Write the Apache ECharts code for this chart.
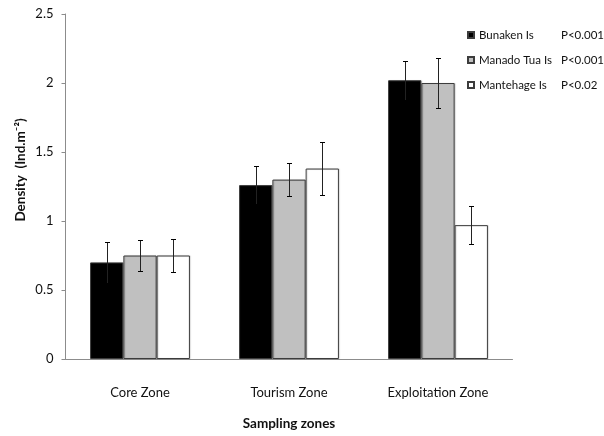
<!DOCTYPE html>
<html>
<head>
<meta charset="utf-8">
<script src="https://cdn.jsdelivr.net/npm/echarts@6/dist/echarts.min.js"></script>
<style>
  html, body { margin: 0; padding: 0; background: #fff; }
  #chart { width: 604px; height: 436px; }
</style>
</head>
<body>
<div id="chart"></div>
<script>
// Sampling zones on the x axis
var zones = ['Core Zone', 'Tourism Zone', 'Exploitation Zone'];

// Islands, with the significance note shown beside each legend entry
var islands = ['Bunaken Is', 'Manado Tua Is', 'Mantehage Is'];
var pNotes = ['P<0.001', 'P<0.001', 'P<0.02'];

// Mean density (ind. m^-2) per zone
var bunakenMean = [0.70, 1.26, 2.02];
var manadoMean = [0.75, 1.30, 2.00];
var mantehageMean = [0.75, 1.38, 0.97];

// Standard error per zone
var bunakenErr = [0.15, 0.14, 0.14];
var manadoErr = [0.11, 0.12, 0.18];
var mantehageErr = [0.12, 0.19, 0.14];

var means = [bunakenMean, manadoMean, mantehageMean];
var errs = [bunakenErr, manadoErr, mantehageErr];
var fills = ['#000000', '#c0c0c0', '#ffffff'];

var FONT = "Lato, 'Open Sans', sans-serif";
var CATEGORY_GAP = 0.33;

var chart = echarts.init(document.getElementById('chart'), null, { renderer: 'canvas' });

function errorSeries(k) {
  return {
    type: 'custom',
    name: islands[k] + ' error',
    z: 5,
    silent: true,
    data: means[k].map(function (m, i) { return [i, m, errs[k][i]]; }),
    renderItem: function (params, api) {
      var i = api.value(0), m = api.value(1), e = api.value(2);
      var band = api.size([1, 0])[0];
      var bw = band * (1 - CATEGORY_GAP) / 3;
      var cx = Math.round(api.coord([i, m])[0] + (k - 1) * bw) + 0.5;
      var yHi = Math.round(api.coord([i, m + e])[1]) + 0.5;
      var yLo = Math.round(api.coord([i, m - e])[1]) + 0.5;
      var cap = 2.5;
      return {
        type: 'group',
        children: [
          { type: 'line', shape: { x1: cx, y1: yHi, x2: cx, y2: yLo }, style: { stroke: '#222', lineWidth: 1 } },
          { type: 'line', shape: { x1: cx - cap, y1: yHi, x2: cx + cap, y2: yHi }, style: { stroke: '#000', lineWidth: 1 } },
          { type: 'line', shape: { x1: cx - cap, y1: yLo, x2: cx + cap, y2: yLo }, style: { stroke: '#000', lineWidth: 1 } }
        ]
      };
    }
  };
}

var barSeries = islands.map(function (name, k) {
  return {
    type: 'bar',
    name: name,
    data: means[k],
    barGap: '0%',
    barCategoryGap: (CATEGORY_GAP * 100) + '%',
    itemStyle: {
      color: fills[k],
      borderColor: '#3c3c3c',
      borderWidth: 1,
      shadowColor: 'rgba(0,0,0,0.15)',
      shadowBlur: 1,
      shadowOffsetX: 1,
      shadowOffsetY: 0
    },
    emphasis: { disabled: true }
  };
});

var option = {
  animation: false,
  backgroundColor: '#ffffff',
  grid: { left: 65.5, right: 91.5, top: 14, bottom: 75, containLabel: false },
  legend: {
    orient: 'vertical',
    left: 467,
    top: 29,
    padding: 0,
    itemWidth: 6,
    itemHeight: 6,
    itemGap: 13,
    icon: 'rect',
    selectedMode: false,
    data: islands,
    formatter: function (name) {
      var idx = islands.indexOf(name);
      return '{n|' + name + '}{p|' + pNotes[idx] + '}';
    },
    textStyle: {
      fontFamily: FONT,
      fontSize: 11.5,
      color: '#111',
      rich: {
        n: { width: 82, fontFamily: FONT, fontSize: 11.5, color: '#111' },
        p: { fontFamily: FONT, fontSize: 11.5, color: '#111' }
      }
    }
  },
  xAxis: {
    type: 'category',
    data: zones,
    axisLine: { show: true, lineStyle: { color: '#8c8c8c', width: 1 } },
    axisTick: { show: false },
    axisLabel: { fontFamily: FONT, fontSize: 13, color: '#111', margin: 27 },
    name: 'Sampling zones',
    nameLocation: 'middle',
    nameGap: 58,
    nameTextStyle: { fontFamily: FONT, fontSize: 13.5, fontWeight: 'bold', color: '#111' }
  },
  yAxis: {
    type: 'value',
    min: 0,
    max: 2.5,
    interval: 0.5,
    splitLine: { show: false },
    axisLine: { show: true, lineStyle: { color: '#8c8c8c', width: 1 } },
    axisTick: { show: true, length: 4, lineStyle: { color: '#8c8c8c' } },
    axisLabel: { fontFamily: FONT, fontSize: 13, color: '#111', margin: 12 }
  },
  graphic: [{
    type: 'text',
    x: 21,
    y: 170,
    rotation: Math.PI / 2,
    style: {
      text: 'Density  (Ind.m\u207B\u00B2)',
      fontFamily: FONT,
      fontSize: 13.5,
      fontWeight: 'bold',
      fill: '#111',
      align: 'center',
      verticalAlign: 'middle'
    }
  }],
  series: barSeries.concat([errorSeries(0), errorSeries(1), errorSeries(2)])
};

chart.setOption(option);
</script>
</body>
</html>
